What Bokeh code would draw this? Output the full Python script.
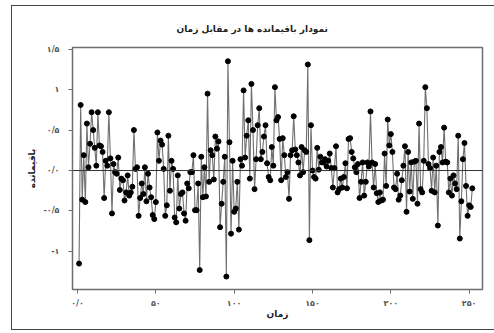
from bokeh.plotting import figure
from bokeh.models import Span, FixedTicker, ColumnDataSource
from bokeh.embed import file_html
from bokeh.resources import INLINE

# ---- data ----
residuals = [
    -1.15, 0.81, -0.36, 0.19, -0.39, 0.58, 0.04, 0.33, 0.72, 0.50,
    0.28, 0.06, 0.72, 0.31, 0.30, 0.23, -0.34, 0.12, 0.06, 0.72,
    0.15, -0.53, 0.08, -0.02, -0.04, 0.16, -0.24, -0.10, -0.12, -0.37,
    -0.27, -0.06, -0.31, -0.27, -0.20, 0.50, 0.02, 0.04, -0.56, -0.34,
    -0.16, -0.29, 0.04, -0.38, -0.04, -0.21, -0.33, -0.55, -0.60, -0.39,
    0.47, 0.12, 0.37, 0.32, 0.02, -0.56, -0.43, 0.43, -0.25, 0.12,
    0.02, -0.58, -0.64, -0.06, -0.47, -0.29, -0.27, -0.53, -0.62, -0.16,
    -0.22, -0.02, -0.02, 0.19, -0.49, -0.49, -0.16, -1.23, 0.17, -0.33,
    0.04, -0.32, 0.95, -0.14, 0.25, 0.19, -0.11, 0.42, 0.27, 0.36,
    -0.70, -0.41, -0.14, 0.17, -1.31, 1.35, 0.35, -0.78, 0.12, -0.51,
    -0.47, -0.14, -0.73, 0.14, 0.06, 0.99, 0.16, 0.43, 0.62, -0.10,
    1.07, 0.50, -0.23, 0.14, 0.56, 0.77, 0.14, 0.23, 0.42, 0.56,
    0.09, -0.08, -0.12, 0.29, 0.06, 1.03, 0.62, 0.66, 0.39, -0.12,
    0.40, 0.19, -0.08, -0.02, -0.35, 0.19, 0.25, 0.67, 0.26, 0.19,
    0.10, -0.06, 0.29, -0.02, 0.25, 0.23, 1.31, -0.86, 0.56, 0.00,
    -0.08, -0.10, 0.28, 0.01, 0.17, 0.10, 0.10, 0.14, 0.05, 0.12,
    0.21, 0.03, -0.21, 0.03, 0.30, -0.27, -0.23, -0.10, -0.21, -0.08,
    0.09, -0.22, 0.39, 0.40, 0.23, 0.15, 0.04, -0.02, 0.08, -0.34,
    -0.14, 0.10, -0.31, -0.14, 0.10, 0.05, 0.73, 0.10, -0.21, 0.08,
    -0.28, -0.39, -0.27, -0.37, -0.36, 0.21, -0.19, 0.63, 0.31, 0.45,
    0.23, -0.21, -0.23, -0.04, -0.36, -0.31, -0.12, 0.06, 0.30, -0.51,
    0.23, -0.26, 0.10, -0.35, 0.11, 0.12, -0.41, 0.58, -0.23, -0.27,
    0.12, 1.03, 0.77, 0.08, 0.03, -0.25, 0.16, -0.27, 0.06, -0.68,
    0.23, 0.29, 0.10, 0.53, 0.11, 0.10, -0.27, -0.10, -0.31, -0.06,
    -0.16, -0.23, 0.43, -0.84, -0.38, 0.14, 0.34, -0.19, -0.56, -0.43,
    -0.45, -0.22,
]
time_index = list(range(1, len(residuals) + 1))

x_ticks = [0, 50, 100, 150, 200, 250]
x_tick_labels = ["۰/۰", "۵۰", "۱۰۰", "۱۵۰", "۲۰۰", "۲۵۰"]
y_ticks = [-1.0, -0.5, 0.0, 0.5, 1.0, 1.5]
y_tick_labels = ["-۱", "-۰/۵", "۰/۰", "۰/۵", "۱", "۱/۵"]

title_text = "نمودار باقیمانده ها در مقابل زمان"
x_label = "زمان"
y_label = "باقیمانده"

FONT = "DejaVu Sans"

source = ColumnDataSource(data=dict(t=time_index, r=residuals))

p = figure(
    width=494, height=333,
    x_range=(-3.2, 258.5), y_range=(-1.47, 1.52),
    output_backend="svg", toolbar_location=None,
    min_border_left=72, min_border_right=12,
    min_border_top=47, min_border_bottom=44,
    title=title_text,
)
p.background_fill_color = "white"
p.border_fill_color = None
p.outline_line_color = "#6e6e6e"
p.outline_line_width = 1.5
p.xgrid.visible = False
p.ygrid.visible = False

# outer frame of the picture (left, top and bottom edges), drawn behind the canvas
p.styles = {
    "background-color": "white",
    "background-image": "linear-gradient(#444,#444), linear-gradient(#444,#444), linear-gradient(#444,#444)",
    "background-size": "1px 325px, 490px 1px, 490px 1px",
    "background-position": "11px 5px, 11px 5px, 11px 329px",
    "background-repeat": "no-repeat",
}

p.title.text_font = FONT
p.title.text_font_size = "9px"
p.title.text_font_style = "bold"
p.title.text_color = "#222222"
p.title.align = "left"
p.title.offset = 104
p.title.standoff = 27

# axes
p.xaxis.ticker = FixedTicker(ticks=x_ticks)
p.xaxis.major_label_overrides = {t: l for t, l in zip(x_ticks, x_tick_labels)}
p.yaxis.ticker = FixedTicker(ticks=y_ticks)
p.yaxis.major_label_overrides = {t: l for t, l in zip(y_ticks, y_tick_labels)}
for ax in (p.xaxis, p.yaxis):
    ax.axis_line_color = "#6e6e6e"
    ax.axis_line_width = 1
    ax.major_tick_line_color = "#6e6e6e"
    ax.major_tick_in = 0
    ax.major_tick_out = 4
    ax.minor_tick_line_color = None
    ax.major_label_text_font = FONT
    ax.major_label_text_font_size = "8px"
    ax.major_label_text_font_style = "bold"
    ax.major_label_text_color = "#555555"
    ax.axis_label_text_font = FONT
    ax.axis_label_text_font_size = "9px"
    ax.axis_label_text_font_style = "bold"
    ax.axis_label_text_color = "#222222"
p.xaxis.axis_label = x_label
p.yaxis.axis_label = y_label
p.xaxis.major_label_standoff = 5
p.xaxis.axis_label_standoff = -2
p.yaxis.major_label_standoff = 9
p.yaxis.axis_label_standoff = 3

# zero reference line
p.add_layout(Span(location=0, dimension="width", line_color="#333333", line_width=1))

# series
p.line("t", "r", source=source, line_color="#707070", line_width=1.1)
p.scatter("t", "r", source=source, size=5, fill_color="black", line_color="black")

open("out.html", "w").write(file_html(p, INLINE))
